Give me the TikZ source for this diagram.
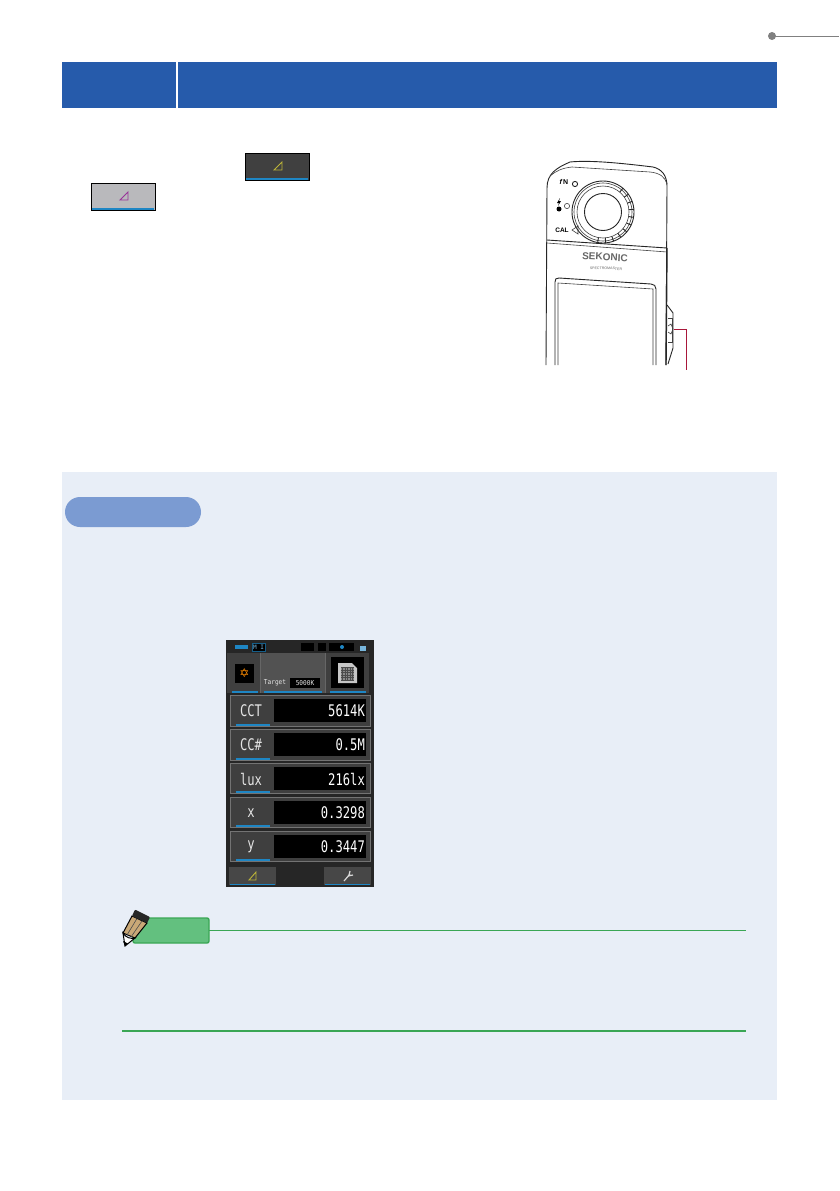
\documentclass[tikz,border=0pt]{standalone}
\usepackage{fontspec}
\setmainfont{Liberation Sans}
\setmonofont{DejaVu Sans Mono}
\definecolor{bandblue}{HTML}{265BAB}
\definecolor{panelblue}{HTML}{E8EEF7}
\definecolor{pillblue}{HTML}{7B9BD2}
\definecolor{notegreen}{HTML}{63C07F}
\definecolor{linegreen}{HTML}{3AA655}
\definecolor{keyblue}{HTML}{1E86C4}
\definecolor{keydark}{HTML}{404040}
\definecolor{keylight}{HTML}{B9B9BC}
\definecolor{rowgrey}{HTML}{3F3F3F}
\definecolor{pencil}{HTML}{C9A877}
\definecolor{leader}{HTML}{A8173A}
\tikzset{
  outline/.style={draw=black!85, line width=0.9pt},
  softline/.style={draw=black!75, line width=0.6pt},
  keydarkbox/.style={fill=keydark, draw=black, line width=0.9pt},
  keylightbox/.style={fill=keylight, draw=black, line width=0.9pt},
  keyline/.style={keyblue, line width=1.3pt},
  rowbox/.style={fill=rowgrey, draw=black!55, line width=1pt},
  rowvalue/.style={font=\ttfamily\fontsize{16}{16}\selectfont, text=white, xscale=0.76, transform shape, inner sep=0pt, anchor=east},
  rowlabel/.style={font=\ttfamily\fontsize{16}{16}\selectfont, text=white!90!black, xscale=0.76, transform shape, inner sep=0pt},
  tinytext/.style={font=\ttfamily\fontsize{6.8}{7}\selectfont, text=white!90!black, xscale=0.9, transform shape, inner sep=0pt}
}
\begin{document}
\begin{tikzpicture}[x=1pt,y=-1pt]
\useasboundingbox (0,0) rectangle (839,1191);
\fill[white] (0,0) rectangle (839,1191);

\coordinate (pagemark) at (772,36);
\coordinate (pageedge) at (839,36);
\draw[black!50, line width=0.9pt] (pagemark) -- (pageedge);
\fill[black!50] (pagemark) circle [radius=4];

\fill[bandblue] (62,62) rectangle (777,108);
\fill[white] (175.5,62) rectangle (177.5,108);

\draw[keydarkbox] (245,153.5) rectangle (309,180);
\draw[keyline] (246,179) -- (308,179);
\draw[draw=yellow!70!black, line width=0.8pt] (274,170) -- (282,162) -- (282,170) -- cycle;
\draw[keylightbox] (91,183.5) rectangle (155,210);
\draw[keyline] (92,209) -- (154,209);
\draw[draw=violet!80!white, line width=0.9pt] (120,200) -- (128,192) -- (128,200) -- cycle;

\draw[outline] (546,365) -- (547,188) .. controls (547,174) and (556,168) .. (570,162) .. controls (590,160) and (620,163) .. (653,167) .. controls (662,169) and (667,176) .. (667,186) -- (666,365);
\draw[softline] (550,176) .. controls (556,171) and (562,168) .. (572,167) -- (650,172) .. controls (660,173) and (665,177) .. (667,184);
\draw[outline] (547,240) -- (667,248);
\draw[softline] (547,243) -- (667,252);
\draw[outline] (555,365) -- (555,282) .. controls (555,279) and (556,278) .. (559,278) -- (651,284) .. controls (654,284) and (656,286) .. (656,289) -- (656,365);
\draw[softline] (558,365) -- (558,283) -- (653,289) -- (653,365);
\draw[line width=1.4pt, black!85] (667,248) -- (666,365);

\draw[outline] (603,212) circle [radius=31];
\draw[softline] (603,212) circle [radius=29];
\draw[softline] (603,212) circle [radius=26];
\draw[outline] (603,212) circle [radius=18.5];
\foreach \tickangle in {-50,-35,...,100} {
  \draw[outline] (603,212) ++(\tickangle:26) -- ++(\tickangle:5);
}

\node[font=\bfseries\fontsize{7}{7}\selectfont, inner sep=0pt] (fnmark) at (564,182) {\itshape f\,\upshape N};
\draw[outline] (575,184) circle [radius=2.6];
\fill[black] (560,198) -- (557,203) -- (559,203) -- (558,206) -- (561,201) -- (559,201) -- cycle;
\fill[black] (559,209) circle [radius=2.5];
\draw[softline] (567,206) circle [radius=2.6];
\node[font=\bfseries\fontsize{6.5}{7}\selectfont, inner sep=0pt] (calmark) at (562,230) {CAL};
\draw[softline] (572,230) -- (578,226) -- (578,234) -- cycle;

\node[font=\bfseries\fontsize{10}{11}\selectfont, text=black!60, rotate=-3, inner sep=0pt] (brand) at (605,257) {SEKONIC};
\node[font=\fontsize{3.6}{5}\selectfont, text=black!60, rotate=-2, inner sep=0pt] (model) at (606,268.5) {SPECTROMASTER};

\draw[outline] (667,305) -- (673,313) -- (673,348) -- (668,364);
\draw[softline] (668,318) -- (672,318) -- (672,342) -- (668,342);
\draw[softline] (668,326) -- (671,324) -- (673,329) -- (671,334) -- (668,332);

\coordinate (sidekey) at (674,329);
\coordinate (leaderend) at (686,370);
\draw[leader, line width=1pt] (sidekey) -| (leaderend);

\fill[panelblue] (62,472) rectangle (777,1100);
\fill[pillblue, rounded corners=15pt] (65,497) rectangle (201,527);

\fill[black!85] (226,640) rectangle (374,887);
\fill[rowgrey] (227,653) rectangle (369,693);
\fill[black!68] (260,653) rectangle (325,693);
\draw[black!60, line width=0.8pt] (260,653) -- (260,693);
\draw[black!60, line width=0.8pt] (325.5,653) -- (325.5,693);
\fill[black] (235,664) rectangle (254,683);
\node[font=\fontsize{12}{12}\selectfont, text=orange!90!yellow, inner sep=0pt] (lightstar) at (244.5,673.5) {\fontspec{DejaVu Sans}✡};
\fill[black] (331,657) rectangle (364,688);
\fill[black!22] (338,663) -- (352,663) -- (357,668) -- (357,683) -- (338,683) -- cycle;
\fill[black!45] (341,667) rectangle (354,680);
\draw[black!70, line width=0.4pt, step=2.5pt] (341,667) grid (354,680);
\node[tinytext] (targetlabel) at (275,683) {Target};
\fill[black] (290,678) rectangle (320,688);
\node[tinytext] (targetvalue) at (305,683) {5000K};
\draw[keyline] (232,692) -- (258,692);
\draw[keyline] (264,692) -- (322,692);
\draw[keyline] (330,692) -- (366,692);

\fill[keyblue] (235,645) rectangle (248,649);
\draw[keyblue!70!black, fill=black] (252,643) rectangle (265,651);
\node[font=\ttfamily\fontsize{6}{6}\selectfont, text=keyblue!60!white, inner sep=0pt] (statusmode) at (258.5,647) {M I};
\fill[black] (301,643) rectangle (314,651);
\fill[black] (318,643) rectangle (326,651);
\fill[black] (329,643) rectangle (354,651);
\fill[keyblue] (342,647) circle [radius=2];
\fill[keyblue!60!white] (360,646) rectangle (366,651);

\draw[rowbox] (230,695) rectangle (370,726);
\fill[black] (274,699) rectangle (366,722);
\draw[keyline] (236,725) -- (270,725);
\node[rowlabel] (cctlabel) at (251,711) {CCT};
\node[rowvalue] (cctvalue) at (365,711) {5614K};

\draw[rowbox] (230,729) rectangle (370,760);
\fill[black] (274,733) rectangle (366,756);
\draw[keyline] (236,759) -- (270,759);
\node[rowlabel] (cclabel) at (251,745) {CC\#};
\node[rowvalue] (ccvalue) at (365,745) {0.5M};

\draw[rowbox] (230,763) rectangle (370,793);
\fill[black] (274,767) rectangle (366,790);
\draw[keyline] (236,792) -- (270,792);
\node[rowlabel] (luxlabel) at (251,779) {lux};
\node[rowvalue] (luxvalue) at (365,779) {216lx};

\draw[rowbox] (230,797) rectangle (370,827);
\fill[black] (274,801) rectangle (366,824);
\draw[keyline] (236,826) -- (270,826);
\node[rowlabel] (xlabel) at (251,813) {x};
\node[rowvalue] (xvalue) at (365,813) {0.3298};

\draw[rowbox] (230,831) rectangle (370,861);
\fill[black] (274,835) rectangle (366,858);
\draw[keyline] (236,860) -- (270,860);
\node[rowlabel] (ylabel) at (251,847) {y};
\node[rowvalue] (yvalue) at (365,847) {0.3447};

\fill[black!72] (229,867) rectangle (276,885);
\draw[keyline] (230,884.5) -- (275,884.5);
\draw[draw=yellow!70!black, line width=0.9pt] (249,880) -- (256,872) -- (256,880) -- cycle;
\fill[black!72] (324,867) rectangle (371,885);
\draw[keyline] (325,884.5) -- (370,884.5);
\draw[white!85!black, line width=1.2pt] (344,881) -- (350,874);
\draw[white!85!black, line width=1.2pt] (348,876) -- (353,875);
\draw[white!85!black, line width=1.2pt] (349,875) -- (350,871);

\draw[fill=notegreen, draw=linegreen, line width=1.4pt, rounded corners=2pt] (133,918) rectangle (209,943);
\coordinate (notestart) at (209,930.5);
\coordinate (noteend) at (746,930.5);
\coordinate (notefootstart) at (122,1031);
\coordinate (notefootend) at (746,1031);
\draw[linegreen, line width=1.4pt] (notestart) -- (noteend);
\draw[linegreen, line width=1.4pt] (notefootstart) -- (notefootend);

\draw[fill=pencil, draw=black, line width=1pt] (132,916) -- (147,923) -- (135,938) -- (123,933) -- cycle;
\draw[black!70, line width=0.6pt] (137,918.5) -- (127,935);
\draw[black!70, line width=0.6pt] (142,921) -- (131,937);
\draw[fill=white, draw=black, line width=1pt] (123,933) .. controls (126,938) and (131,939) .. (135,938) -- (125,946) -- cycle;
\fill[black] (125,946) -- (123,941) -- (128,943.5) -- cycle;
\fill[black!85, rounded corners=1pt] (135,909.5) -- (150,917) -- (147,923) -- (132,916) -- cycle;
\end{tikzpicture}
\end{document}
